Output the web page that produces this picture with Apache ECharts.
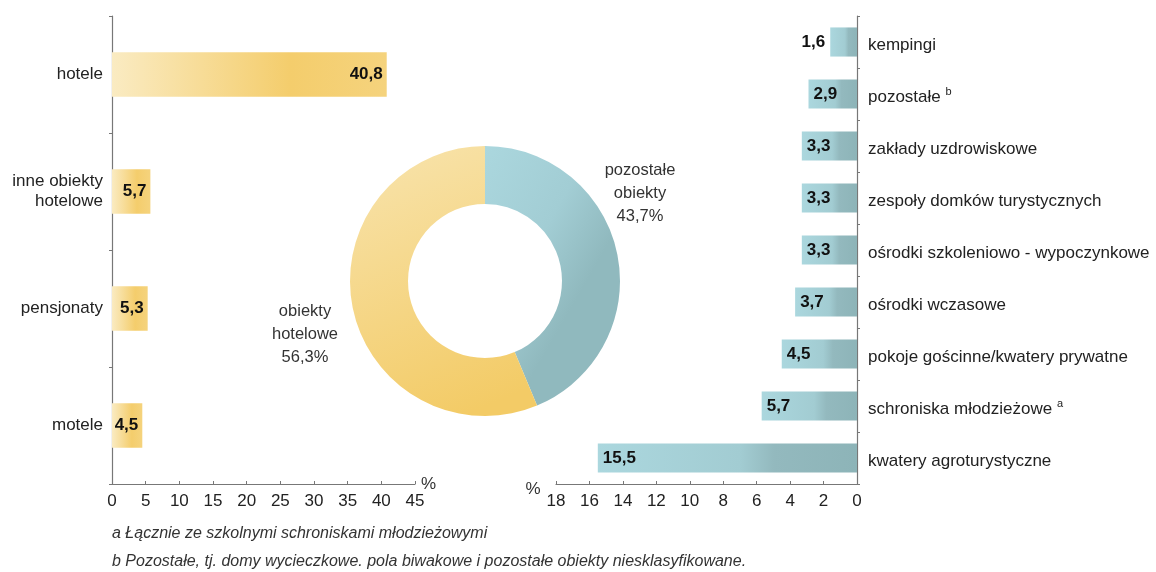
<!DOCTYPE html>
<html><head><meta charset="utf-8">
<script src="https://cdn.jsdelivr.net/npm/echarts@6/dist/echarts.min.js"></script>
<style>html,body{margin:0;padding:0;background:#fff}#c{width:1156px;height:572px}</style>
</head><body><div id="c"></div>
<script>
const leftCategories = ['hotele', 'inne obiekty\nhotelowe', 'pensjonaty', 'motele'];
const leftValues = [40.8, 5.7, 5.3, 4.5];
const rightCategories = ['kempingi', 'pozostałe', 'zakłady uzdrowiskowe', 'zespoły domków turystycznych', 'ośrodki szkoleniowo - wypoczynkowe', 'ośrodki wczasowe', 'pokoje gościnne/kwatery prywatne', 'schroniska młodzieżowe', 'kwatery agroturystyczne'];
const rightSup = ['', 'b', '', '', '', '', '', 'a', ''];
const rightValues = [1.6, 2.9, 3.3, 3.3, 3.3, 3.7, 4.5, 5.7, 15.5];
const pieNames = ['pozostałe\nobiekty', 'obiekty\nhotelowe'];
const pieValues = [43.7, 56.3];
const footnotes = ['a Łącznie ze szkolnymi schroniskami młodzieżowymi', 'b Pozostałe, tj. domy wycieczkowe. pola biwakowe i pozostałe obiekty niesklasyfikowane.'];

const fmt = v => String(v).replace('.', ',');
const font = 'Liberation Sans, Arial, sans-serif';
const yellowBar = new echarts.graphic.LinearGradient(0, 0, 1, 0, [
  {offset: 0, color: '#faebc2'}, {offset: 0.65, color: '#f4cd6c'}, {offset: 1, color: '#f5d37d'}]);
const tealBar = new echarts.graphic.LinearGradient(0, 0, 1, 0, [
  {offset: 0, color: '#abd7de'}, {offset: 0.55, color: '#a2ccd2'}, {offset: 0.68, color: '#93b9be'}, {offset: 1, color: '#8db4b8'}]);
const yellowPie = new echarts.graphic.LinearGradient(0, 0, 0.6, 1, [
  {offset: 0, color: '#f8e4ae'}, {offset: 1, color: '#f3cb66'}]);
const tealPie = new echarts.graphic.LinearGradient(0, 0, 1, 0.3, [
  {offset: 0, color: '#abd7de'}, {offset: 0.6, color: '#a2cdd4'}, {offset: 1, color: '#90b9be'}]);

const axisLine = {show: true, onZero: false, lineStyle: {color: '#777', width: 1.2}};
const chart = echarts.init(document.getElementById('c'));
chart.setOption({
  animation: false,
  textStyle: {fontFamily: font},
  grid: [
    {left: 112, right: 741, top: 16, bottom: 88},
    {left: 556, right: 299, top: 16, bottom: 88}
  ],
  xAxis: [
    {gridIndex: 0, type: 'value', min: 0, max: 45, interval: 5,
     name: '%', nameGap: 6, nameTextStyle: {fontSize: 17, color: '#333', verticalAlign: 'middle', padding: [0, 0, 2, 0]},
     axisLine: axisLine, axisTick: {show: true, inside: true, length: 3, lineStyle: {color: '#777'}},
     axisLabel: {fontSize: 17, color: '#222', margin: 9}, splitLine: {show: false}},
    {gridIndex: 1, type: 'value', min: 0, max: 18, interval: 2, inverse: true,
     name: '%', nameGap: 5, nameTextStyle: {fontSize: 17, color: '#333', verticalAlign: 'top', padding: [-3, 0, 0, 0]},
     axisLine: axisLine, axisTick: {show: true, inside: true, length: 3, lineStyle: {color: '#777'}},
     axisLabel: {fontSize: 17, color: '#222', margin: 9}, splitLine: {show: false}}
  ],
  yAxis: [
    {gridIndex: 0, type: 'category', data: leftCategories, inverse: true,
     axisLine: axisLine, axisTick: {show: true, length: 3, lineStyle: {color: '#777'}},
     axisLabel: {fontSize: 17, color: '#222', margin: 9, lineHeight: 20}},
    {gridIndex: 1, type: 'category', data: rightCategories, inverse: true, position: 'right',
     axisLine: axisLine, axisTick: {show: true, length: 3, lineStyle: {color: '#777'}},
     axisLabel: {fontSize: 17, color: '#222', margin: 11, padding: [6, 0, 0, 0],
       formatter: (v, i) => rightSup[i] ? v + ' {s|' + rightSup[i] + '}' : v,
       rich: {s: {fontSize: 11, color: '#222', padding: [0, 0, 11, 0]}}}}
  ],
  series: [
    {type: 'bar', xAxisIndex: 0, yAxisIndex: 0, data: leftValues, barWidth: '38%',
     itemStyle: {color: yellowBar},
     label: {show: true, position: 'insideRight', distance: 4, formatter: p => fmt(p.value),
       fontSize: 17, fontWeight: 'bold', color: '#111'}},
    {type: 'bar', xAxisIndex: 1, yAxisIndex: 1, barWidth: '56%',
     data: rightValues.map((v, i) => i === 0 ? {value: v, label: {position: 'left', distance: 5}} : v),
     itemStyle: {color: tealBar},
     label: {show: true, position: 'insideLeft', distance: 5, formatter: p => fmt(p.value),
       fontSize: 17, fontWeight: 'bold', color: '#111'}},
    {type: 'pie', center: [485, 281], radius: [77, 135], startAngle: 90, clockwise: true,
     data: pieNames.map((n, i) => ({name: n, value: pieValues[i], itemStyle: {color: i === 0 ? tealPie : yellowPie}})),
     label: {show: true, position: 'outside', formatter: p => p.name + '\n' + fmt(p.value) + '%',
       fontSize: 16.5, color: '#333', lineHeight: 23, align: 'center'},
     labelLine: {show: false},
     labelLayout: p => p.dataIndex === 0 ? {x: 640, y: 193, align: 'center', verticalAlign: 'middle'} : {x: 305, y: 334, align: 'center', verticalAlign: 'middle'},
     emphasis: {disabled: true}}
  ],
  graphic: footnotes.map((t, i) => ({type: 'text', left: 112, top: 526 + i * 28,
    style: {text: t, font: 'italic 16px ' + font, fill: '#333'}}))
});
</script></body></html>
